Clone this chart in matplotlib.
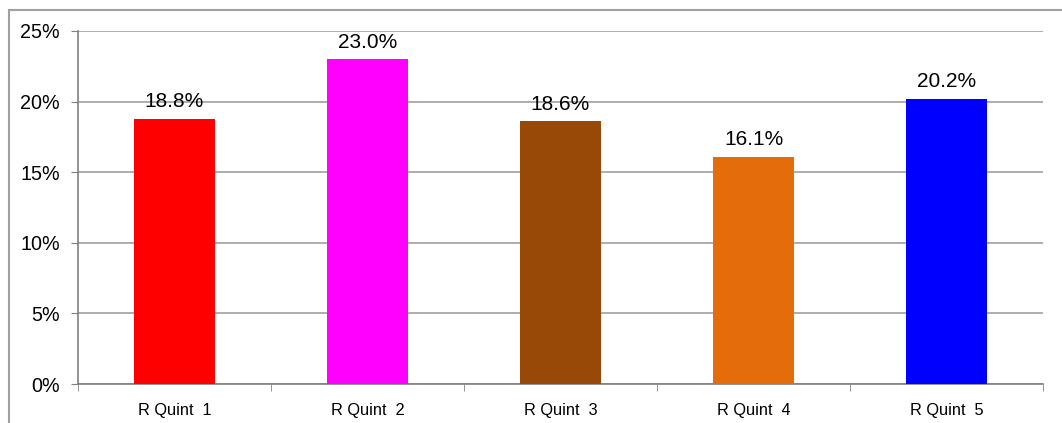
import numpy as np
import matplotlib.pyplot as plt
from matplotlib.patches import Rectangle
from matplotlib.ticker import FixedLocator, PercentFormatter

plt.rcParams['font.family'] = ['Liberation Sans', 'DejaVu Sans']

# data
categories = ['R Quint  1', 'R Quint  2', 'R Quint  3', 'R Quint  4', 'R Quint  5']
values = [18.8, 23.0, 18.6, 16.1, 20.2]
colors = ['#FF0000', '#FF00FF', '#984807', '#E46C0A', '#0000FF']
y_ticks = [0, 5, 10, 15, 20, 25]

W, H = 1062, 423
fig = plt.figure(figsize=(W / 100, H / 100), dpi=100)
ax = fig.add_axes([78 / W, (H - 384) / H, 965 / W, (384 - 31) / H])

# outer chart border
fig.patches.append(Rectangle((9 / W, -0.1), 1.2, 1.1 - 10 / H, transform=fig.transFigure,
                             fill=False, edgecolor='#A0A0A0', linewidth=1.5, clip_on=False))

x = np.arange(len(categories))
ax.bar(x, values, width=0.415, color=colors, zorder=3)

for xi, v in zip(x, values):
    ax.annotate('%.1f%%' % v, (xi, v), xytext=(0, 5.5), textcoords='offset points',
                ha='center', va='bottom', fontsize=15, color='black')

ax.set_xlim(-0.5, len(categories) - 0.5)
ax.set_ylim(0, 25)
ax.set_yticks(y_ticks)
ax.yaxis.set_major_formatter(PercentFormatter(decimals=0))
ax.tick_params(axis='y', labelsize=14.2, length=5, color='#808080', pad=8)
ax.yaxis.grid(True, color='#A0A0A0', linewidth=1.2, zorder=0)

ax.set_xticks(x)
ax.set_xticklabels(categories)
ax.xaxis.set_minor_locator(FixedLocator(np.arange(-0.5, len(categories), 1.0)))
ax.tick_params(axis='x', which='major', length=0, labelsize=11.8, pad=14)
ax.tick_params(axis='x', which='minor', length=5, color='#808080')

for s in ['top', 'right']:
    ax.spines[s].set_visible(False)
for s in ['left', 'bottom']:
    ax.spines[s].set_color('#808080')
    ax.spines[s].set_linewidth(1.2)

fig.savefig('out.png', dpi=100)
